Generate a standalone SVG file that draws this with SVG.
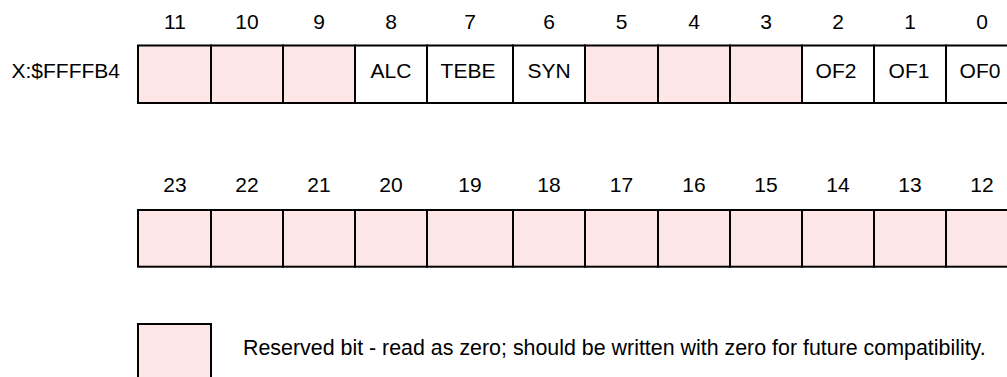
<svg xmlns="http://www.w3.org/2000/svg" width="1007" height="377" viewBox="0 0 1007 377">
<style>
.cell{stroke:#000;stroke-width:2;}
.res{fill:#ffe6e6;}
.bit{fill:#fff;}
text{font-family:"Liberation Sans",Arial,sans-serif;font-size:21px;fill:#000;}
.c{text-anchor:middle;}
</style>
<rect width="1007" height="377" fill="#fff"/>
<text id="regname" x="120" y="77.5" text-anchor="end">X:$FFFFB4</text>
<g id="row0">
<g id="b11"><rect class="cell res" x="138" y="45.5" width="73" height="57.5"/><text class="c" x="175" y="29">11</text></g>
<g id="b10"><rect class="cell res" x="211" y="45.5" width="72" height="57.5"/><text class="c" x="247" y="29">10</text></g>
<g id="b9"><rect class="cell res" x="283" y="45.5" width="72" height="57.5"/><text class="c" x="319" y="29">9</text></g>
<g id="b8"><rect class="cell bit" x="355" y="45.5" width="72" height="57.5"/><text class="c" x="391" y="29">8</text><text class="c" x="391" y="77.5">ALC</text></g>
<g id="b7"><rect class="cell bit" x="427" y="45.5" width="86" height="57.5"/><text class="c" x="470" y="29">7</text><text class="c" x="468" y="77.5">TEBE</text></g>
<g id="b6"><rect class="cell bit" x="513" y="45.5" width="72" height="57.5"/><text class="c" x="549" y="29">6</text><text class="c" x="549" y="77.5">SYN</text></g>
<g id="b5"><rect class="cell res" x="585" y="45.5" width="73" height="57.5"/><text class="c" x="621.5" y="29">5</text></g>
<g id="b4"><rect class="cell res" x="658" y="45.5" width="72" height="57.5"/><text class="c" x="694" y="29">4</text></g>
<g id="b3"><rect class="cell res" x="730" y="45.5" width="72" height="57.5"/><text class="c" x="766" y="29">3</text></g>
<g id="b2"><rect class="cell bit" x="802" y="45.5" width="72" height="57.5"/><text class="c" x="838" y="29">2</text><text class="c" x="836" y="77.5">OF2</text></g>
<g id="b1"><rect class="cell bit" x="874" y="45.5" width="72" height="57.5"/><text class="c" x="910" y="29">1</text><text class="c" x="909" y="77.5">OF1</text></g>
<g id="b0"><rect class="cell bit" x="946" y="45.5" width="72" height="57.5"/><text class="c" x="982" y="29">0</text><text class="c" x="980" y="77.5">OF0</text></g>
</g>
<g id="row1">
<g id="b23"><rect class="cell res" x="138" y="210" width="73" height="56.7"/><text class="c" x="175" y="192">23</text></g>
<g id="b22"><rect class="cell res" x="211" y="210" width="72" height="56.7"/><text class="c" x="247" y="192">22</text></g>
<g id="b21"><rect class="cell res" x="283" y="210" width="72" height="56.7"/><text class="c" x="319" y="192">21</text></g>
<g id="b20"><rect class="cell res" x="355" y="210" width="72" height="56.7"/><text class="c" x="391" y="192">20</text></g>
<g id="b19"><rect class="cell res" x="427" y="210" width="86" height="56.7"/><text class="c" x="470" y="192">19</text></g>
<g id="b18"><rect class="cell res" x="513" y="210" width="72" height="56.7"/><text class="c" x="549" y="192">18</text></g>
<g id="b17"><rect class="cell res" x="585" y="210" width="73" height="56.7"/><text class="c" x="621.5" y="192">17</text></g>
<g id="b16"><rect class="cell res" x="658" y="210" width="72" height="56.7"/><text class="c" x="694" y="192">16</text></g>
<g id="b15"><rect class="cell res" x="730" y="210" width="72" height="56.7"/><text class="c" x="766" y="192">15</text></g>
<g id="b14"><rect class="cell res" x="802" y="210" width="72" height="56.7"/><text class="c" x="838" y="192">14</text></g>
<g id="b13"><rect class="cell res" x="874" y="210" width="72" height="56.7"/><text class="c" x="910" y="192">13</text></g>
<g id="b12"><rect class="cell res" x="946" y="210" width="72" height="56.7"/><text class="c" x="982" y="192">12</text></g>
</g>
<g id="legend">
<rect class="cell res" x="138" y="324" width="73" height="70"/>
<text x="243" y="355" style="font-size:21.4px">Reserved bit - read as zero; should be written with zero for future compatibility.</text>
</g>
<g id="connectors"/>
</svg>
